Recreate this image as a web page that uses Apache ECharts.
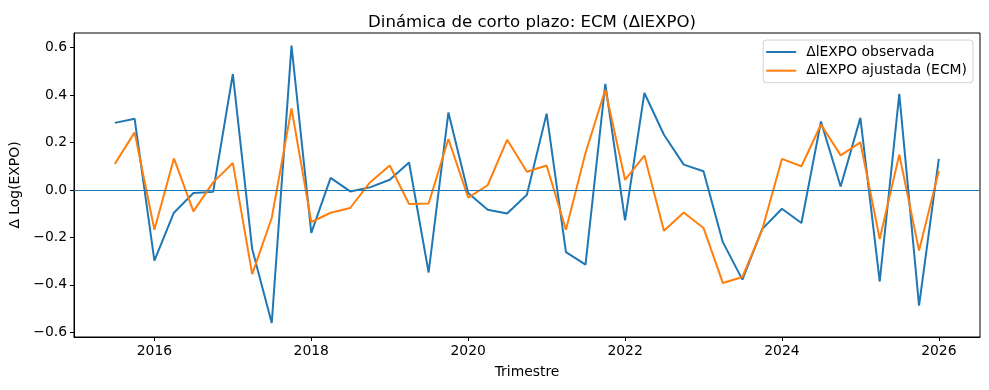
<!DOCTYPE html>
<html>
<head>
<meta charset="utf-8">
<script src="https://cdn.jsdelivr.net/npm/echarts@6/dist/echarts.min.js"></script>
<style>html,body{margin:0;padding:0;background:#fff}#c{width:989px;height:390px}</style>
</head>
<body>
<div id="c"></div>
<script>
const quarters = ["2015Q3","2015Q4","2016Q1","2016Q2","2016Q3","2016Q4","2017Q1","2017Q2","2017Q3","2017Q4",
"2018Q1","2018Q2","2018Q3","2018Q4","2019Q1","2019Q2","2019Q3","2019Q4","2020Q1","2020Q2","2020Q3","2020Q4",
"2021Q1","2021Q2","2021Q3","2021Q4","2022Q1","2022Q2","2022Q3","2022Q4","2023Q1","2023Q2","2023Q3","2023Q4",
"2024Q1","2024Q2","2024Q3","2024Q4","2025Q1","2025Q2","2025Q3","2025Q4","2026Q1"];
const observada = [0.283,0.300,-0.298,-0.096,-0.013,-0.008,0.489,-0.249,-0.561,0.609,
-0.181,0.051,-0.006,0.011,0.043,0.116,-0.348,0.327,-0.013,-0.083,-0.099,-0.020,
0.322,-0.262,-0.315,0.447,-0.128,0.409,0.233,0.107,0.079,-0.220,-0.378,-0.165,
-0.079,-0.139,0.289,0.015,0.304,-0.386,0.405,-0.488,0.131];
const ajustada = [0.110,0.243,-0.168,0.133,-0.090,0.032,0.114,-0.355,-0.118,0.344,
-0.135,-0.096,-0.076,0.032,0.103,-0.059,-0.057,0.215,-0.032,0.020,0.212,0.077,
0.103,-0.168,0.156,0.423,0.043,0.145,-0.172,-0.095,-0.160,-0.392,-0.367,-0.168,
0.131,0.100,0.276,0.146,0.201,-0.207,0.149,-0.255,0.080];
const xTicks = [2016,2018,2020,2022,2024,2026];
const yTicks = [-0.6,-0.4,-0.2,0.0,0.2,0.4,0.6];
const seriesNames = ["\u0394lEXPO observada","\u0394lEXPO ajustada (ECM)"];

function qToYear(q){
  const y = parseInt(q.slice(0,4),10), n = parseInt(q.slice(5),10);
  const d = new Date(Date.UTC(y,(n-1)*3,1));
  const s = Date.UTC(y,0,1), e = Date.UTC(y+1,0,1);
  return y + (d - s)/(e - s);
}
const xs = quarters.map(qToYear);
const pairs = arr => arr.map((v,i)=>[xs[i],v]);

const FONT = "DejaVu Sans";
const FS = 13.9;
const chart = echarts.init(document.getElementById('c'), null, {renderer:'canvas'});
chart.setOption({
  animation:false,
  backgroundColor:'#fff',
  textStyle:{fontFamily:FONT,color:'#000'},
  title:{text:"Din\u00e1mica de corto plazo: ECM (\u0394lEXPO)",left:527,textAlign:'center',top:9,
    textStyle:{fontFamily:FONT,fontSize:16.6,fontWeight:'normal',color:'#000'}},
  legend:{orient:'vertical',right:16,top:40,icon:'rect',itemWidth:30,itemHeight:2,itemGap:4.7,
    backgroundColor:'rgba(255,255,255,0.8)',borderColor:'#d0d0d0',borderWidth:1,borderRadius:3,
    padding:[5,6,5,3],
    textStyle:{fontFamily:FONT,fontSize:FS,color:'#000',padding:[0,0,0,5]},data:seriesNames},
  grid:{left:73,right:9,top:33,bottom:53,show:true,borderColor:'#000',borderWidth:1,backgroundColor:'transparent'},
  xAxis:{type:'value',min:2014.975,max:2026.525,
    name:'Trimestre',nameLocation:'middle',nameGap:28,
    nameTextStyle:{fontFamily:FONT,fontSize:FS,color:'#000'},
    axisLine:{show:true,onZero:false,lineStyle:{color:'#000',width:1}},
    axisTick:{show:true,inside:false,length:4,customValues:xTicks,lineStyle:{color:'#000'}},
    axisLabel:{customValues:xTicks,fontFamily:FONT,fontSize:FS,color:'#000',margin:7,formatter:v=>String(Math.round(v))},
    splitLine:{show:false}},
  yAxis:{type:'value',min:-0.62,max:0.662,
    name:'\u0394 Log(EXPO)',nameLocation:'middle',nameGap:52,nameRotate:90,
    nameTextStyle:{fontFamily:FONT,fontSize:FS,color:'#000'},
    axisLine:{show:true,onZero:false,lineStyle:{color:'#000',width:1}},
    axisTick:{show:true,inside:false,length:4,customValues:yTicks,lineStyle:{color:'#000'}},
    axisLabel:{customValues:yTicks,fontFamily:FONT,fontSize:FS,color:'#000',margin:7,
      formatter:v=>v.toFixed(1).replace('-','\u2212').replace('\u22120.0','0.0')},
    splitLine:{show:false}},
  series:[
    {name:seriesNames[0],type:'line',data:pairs(observada),symbol:'none',
      lineStyle:{color:'#1f77b4',width:2},itemStyle:{color:'#1f77b4'},z:3,
      markLine:{silent:true,symbol:'none',label:{show:false},animation:false,
        lineStyle:{color:'#1f77b4',width:1,type:'solid'},data:[{yAxis:0}]}},
    {name:seriesNames[1],type:'line',data:pairs(ajustada),symbol:'none',
      lineStyle:{color:'#ff7f0e',width:2},itemStyle:{color:'#ff7f0e'},z:4}
  ]
});
</script>
</body>
</html>
